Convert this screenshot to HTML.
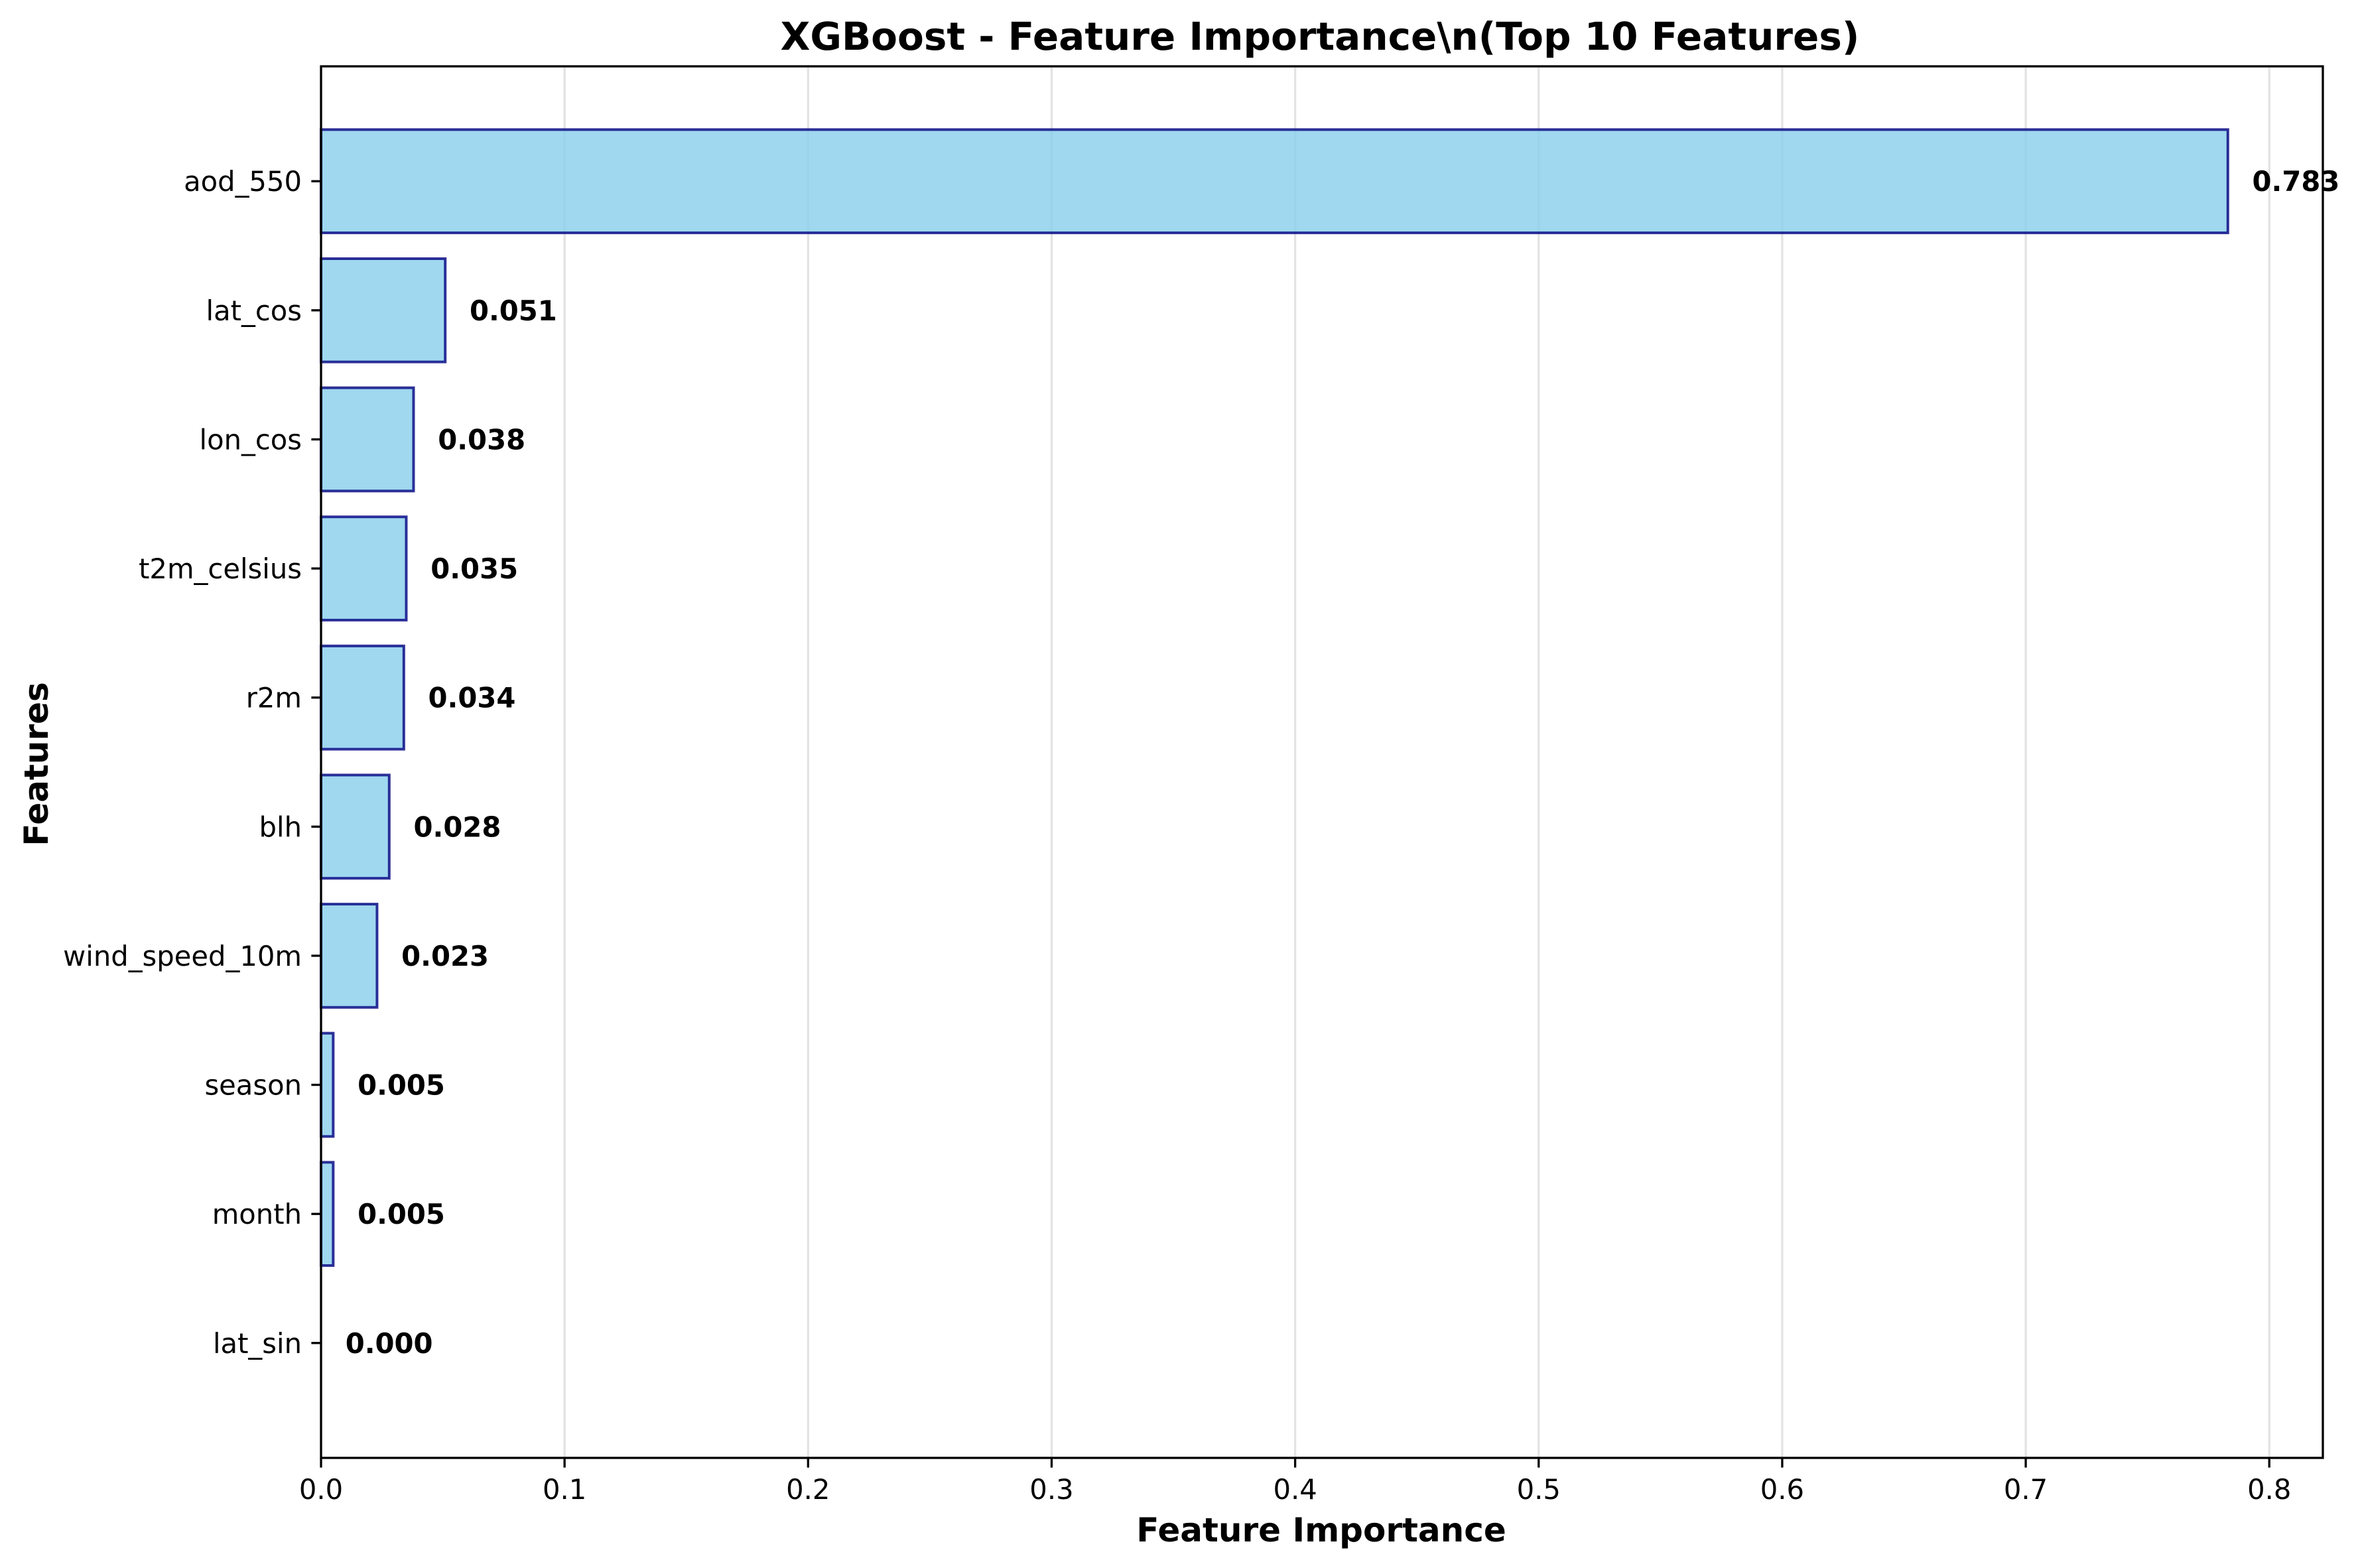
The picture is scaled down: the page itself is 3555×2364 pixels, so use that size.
<!DOCTYPE html>
<html><head><meta charset="utf-8">
<style>
html,body{margin:0;padding:0;background:#fff;}
svg{display:block;font-family:"DejaVu Sans","Liberation Sans",sans-serif;}
</style></head>
<body>
<svg id="chart" width="3555" height="2364" viewBox="0 0 3555 2364" xmlns="http://www.w3.org/2000/svg">
<rect x="0" y="0" width="3555" height="2364" fill="#fff"/>
<text x="1990" y="75" text-anchor="middle" font-size="58" font-weight="bold">XGBoost - Feature Importance\n(Top 10 Features)</text>
<g id="grid"></g>
<g id="bars"></g>
<g id="labels"></g>
<g id="axes"></g>
<text x="1992" y="2324" text-anchor="middle" font-size="50" font-weight="bold">Feature Importance</text>
<text transform="translate(72,1152) rotate(-90)" text-anchor="middle" font-size="50" font-weight="bold">Features</text>
</svg>
<script>
const categories = ["aod_550","lat_cos","lon_cos","t2m_celsius","r2m","blh","wind_speed_10m","season","month","lat_sin"];
const values = [0.783,0.051,0.038,0.035,0.034,0.028,0.023,0.005,0.005,0.000];
const valueLabels = ["0.783","0.051","0.038","0.035","0.034","0.028","0.023","0.005","0.005","0.000"];
const xTicks = [0.0,0.1,0.2,0.3,0.4,0.5,0.6,0.7,0.8];
const xTickLabels = ["0.0","0.1","0.2","0.3","0.4","0.5","0.6","0.7","0.8"];

const NS = "http://www.w3.org/2000/svg";
const L = 484, R = 3502, T = 100, B = 2198;
const xMax = 0.822;
const yMin = -0.89, yMax = 9.89;
function xs(v){ return L + (v / xMax) * (R - L); }
function ys(i){ return T + (i - yMin) / (yMax - yMin) * (B - T); }
const unit = (B - T) / (yMax - yMin);
function mk(tag, attrs, parent){
  const e = document.createElementNS(NS, tag);
  for (const k in attrs) e.setAttribute(k, attrs[k]);
  parent.appendChild(e);
  return e;
}
const grid = document.getElementById('grid');
const bars = document.getElementById('bars');
const labels = document.getElementById('labels');
const axes = document.getElementById('axes');

xTicks.forEach((t, i) => {
  const x = xs(t);
  const g = mk('line', {x1:x, x2:x, y1:T, y2:B, stroke:'#e3e3e3', 'stroke-width':3.3}, grid);
  
  
  const tk = mk('line', {x1:x, x2:x, y1:B, y2:B+14.6, stroke:'#000', 'stroke-width':3.3}, axes);
  
  
  const tl = mk('text', {x:x, y:2260, 'text-anchor':'middle', 'font-size':41.7}, axes);
  tl.textContent = xTickLabels[i];
  
  
});

categories.forEach((c, i) => {
  const cy = ys(i);
  const h = 0.8 * unit;
  const w = xs(values[i]) - L;
  const r = mk('rect', {x:L, y:cy - h/2, width:Math.max(w,0), height:h, fill:'#87CEEB', 'fill-opacity':0.8, stroke:'#000080', 'stroke-opacity':0.8, 'stroke-width':4}, bars);
  
  
  const vl = mk('text', {x:xs(values[i] + 0.01), y:cy + 15, 'font-size':41.7, 'font-weight':'bold'}, labels);
  vl.textContent = valueLabels[i];
  
  
  const tk = mk('line', {x1:L-14.6, x2:L, y1:cy, y2:cy, stroke:'#000', 'stroke-width':3.3}, axes);
  
  
  const tl = mk('text', {x:455, y:cy + 15, 'text-anchor':'end', 'font-size':41.7}, axes);
  tl.textContent = c;
  
  
});

const frame = mk('rect', {x:L, y:T, width:R-L, height:B-T, fill:'none', stroke:'#000', 'stroke-width':3.3}, axes);


</script>
</body></html>
